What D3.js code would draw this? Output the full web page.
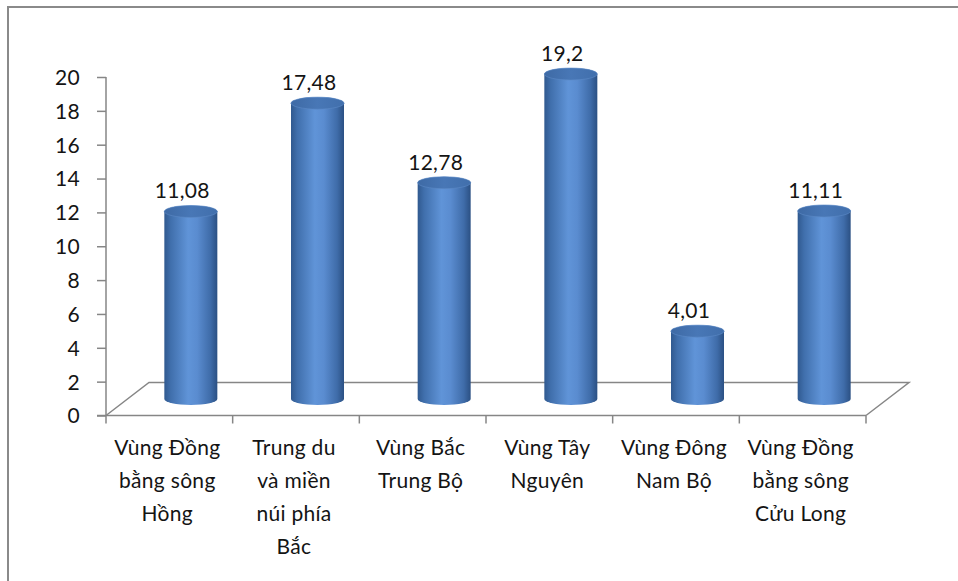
<!DOCTYPE html>
<html>
<head>
<meta charset="utf-8">
<script src="https://cdn.jsdelivr.net/npm/d3@7/dist/d3.min.js"></script>
<style>
  html, body { margin: 0; padding: 0; background: #fff; }
  svg { display: block; }
  text { font-family: Lato, "Open Sans", sans-serif; fill: #141414; letter-spacing: 0.3px; }
</style>
</head>
<body>
<svg id="chart" width="958" height="581"></svg>
<script>
// Regions and their values
const categories = [
  ["Vùng Đồng", "bằng sông", "Hồng"],
  ["Trung du", "và miền", "núi phía", "Bắc"],
  ["Vùng Bắc", "Trung Bộ"],
  ["Vùng Tây", "Nguyên"],
  ["Vùng Đông", "Nam Bộ"],
  ["Vùng Đồng", "bằng sông", "Cửu Long"]
];
const values = [11.08, 17.48, 12.78, 19.2, 4.01, 11.11];
const valueLabels = ["11,08", "17,48", "12,78", "19,2", "4,01", "11,11"];
const yTicks = [0, 2, 4, 6, 8, 10, 12, 14, 16, 18, 20];

const svg = d3.select("#chart");
const keys = categories.map((c, i) => i);

// Front plane of the plot and the depth of the 3D floor
const plotLeft = 106, plotRight = 866, plotBottom = 415.5, plotTop = 77;
const depthX = 43, depthY = -33;
const axisColor = "#868686";
const fontSize = 21;

const x = d3.scaleBand().domain(keys).range([plotLeft, plotRight]).padding(0);
const y = d3.scaleLinear().domain([0, 20]).range([plotBottom, plotTop]);

// Outer frame of the chart area
svg.append("rect")
  .attr("x", 8).attr("y", 7).attr("width", 960).attr("height", 590)
  .attr("fill", "none").attr("stroke", "#8a8a8a").attr("stroke-width", 2);

// Gradients for the cylinder body and top
const defs = svg.append("defs");
const body = defs.append("linearGradient").attr("id", "cylBody")
  .attr("x1", "0%").attr("x2", "100%").attr("y1", "0%").attr("y2", "0%");
[["0%", "#30598f"], ["12%", "#406fac"], ["45%", "#6094d8"], ["62%", "#5a8cd0"],
 ["87%", "#3f6ca9"], ["100%", "#2b5083"]]
  .forEach(([o, c]) => body.append("stop").attr("offset", o).attr("stop-color", c));
const cap = defs.append("linearGradient").attr("id", "cylTop")
  .attr("x1", "0%").attr("x2", "100%").attr("y1", "0%").attr("y2", "0%");
[["0%", "#3e6aa5"], ["50%", "#4877b6"], ["100%", "#416fac"]]
  .forEach(([o, c]) => cap.append("stop").attr("offset", o).attr("stop-color", c));

// Floor of the 3D plot
const floor = d3.path();
floor.moveTo(x.range()[0], y(0));
floor.lineTo(x.range()[0] + depthX, y(0) + depthY);
floor.lineTo(x.range()[1] + depthX, y(0) + depthY);
floor.lineTo(x.range()[1], y(0));
svg.append("path").attr("d", floor.toString())
  .attr("fill", "none").attr("stroke", axisColor).attr("stroke-width", 1.5);

// Value axis
const yAxis = svg.append("g").attr("transform", `translate(${plotLeft},0)`)
  .call(d3.axisLeft(y).tickValues(yTicks).tickSize(9).tickPadding(17).tickFormat(d3.format("d")));
yAxis.select(".domain").attr("stroke", axisColor).attr("stroke-width", 1.5)
  .attr("d", `M0,${plotTop}V${plotBottom}`);
yAxis.selectAll(".tick line").attr("stroke", axisColor).attr("stroke-width", 1.5);
yAxis.selectAll(".tick text").attr("font-size", fontSize).attr("font-family", "Lato")
  .attr("fill", "#141414").attr("dy", "0.35em");

// Category axis
const xAxis = svg.append("g").attr("transform", `translate(0,${plotBottom})`);
xAxis.append("line").attr("x1", plotLeft - 9).attr("x2", plotRight)
  .attr("stroke", axisColor).attr("stroke-width", 1.5);
const bounds = keys.map(k => x(k)).concat([plotRight]);
xAxis.selectAll("line.tick").data(bounds).join("line").attr("class", "tick")
  .attr("x1", d => d).attr("x2", d => d).attr("y1", 0).attr("y2", 8)
  .attr("stroke", axisColor).attr("stroke-width", 1.5);

const catLabels = svg.append("g").selectAll("text").data(keys).join("text")
  .attr("text-anchor", "middle").attr("font-size", fontSize)
  .attr("transform", k => `translate(${x(k) + x.bandwidth() / 2 - 2},${plotBottom + 39})`);
catLabels.selectAll("tspan").data(k => categories[k]).join("tspan")
  .attr("x", 0).attr("y", (d, i) => i * 33).text(d => d);

// Cylinders sit halfway into the depth of the floor
const rx = 26.5, ry = 6;
const cx = k => x(k) + x.bandwidth() / 2 + depthX / 2;
const base = k => y(0) + depthY / 2;
const topY = k => y(values[k]) + depthY / 2;

const bars = svg.append("g").selectAll("g").data(keys).join("g");
bars.append("path")
  .attr("d", k => {
    const c = cx(k), b = base(k), t = topY(k);
    return `M${c - rx},${t}L${c - rx},${b}A${rx},${ry} 0 0 0 ${c + rx},${b}` +
           `L${c + rx},${t}A${rx},${ry} 0 0 0 ${c - rx},${t}Z`;
  })
  .attr("fill", "url(#cylBody)");
bars.append("ellipse")
  .attr("cx", cx).attr("cy", topY).attr("rx", rx).attr("ry", ry)
  .attr("fill", "url(#cylTop)")
  .attr("stroke", "#5d89c6").attr("stroke-width", 0.6);

// Value labels above each cylinder
svg.append("g").selectAll("text").data(keys).join("text")
  .attr("text-anchor", "middle").attr("font-size", fontSize)
  .attr("x", k => x(k) + x.bandwidth() / 2 + 13)
  .attr("y", k => topY(k) - 13)
  .text(k => valueLabels[k]);
</script>
</body>
</html>
